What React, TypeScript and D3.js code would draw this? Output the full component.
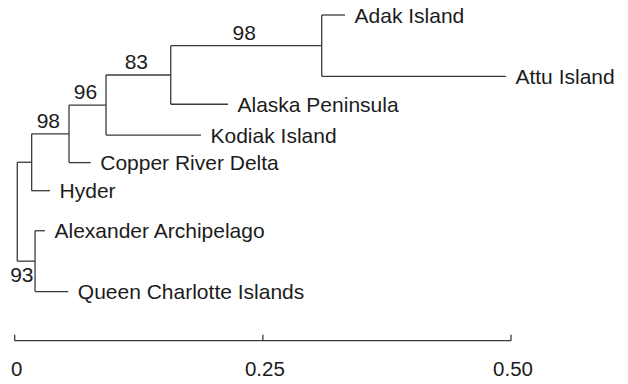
import React, { useEffect } from "react";
import * as d3 from "d3";

// Tree topology: node ids, their parents and branch lengths (substitutions per site)
const nodeIds = ["root", "A", "Hyder", "B", "Copper", "C", "Kodiak", "D", "Alaska", "E", "Adak", "Attu", "F", "Alexander", "Queen"];
const parentIds = ["", "root", "A", "A", "B", "B", "C", "C", "D", "D", "E", "E", "root", "F", "F"];
const branchLengths = [0.0026, 0.0145, 0.0185, 0.0376, 0.0219, 0.0373, 0.0957, 0.0652, 0.0577, 0.1521, 0.0235, 0.1856, 0.0179, 0.01, 0.0335];
// bootstrap support for the branch leading to each node
const bootstrap = [null, null, null, 98, null, 96, null, 83, null, 98, null, null, 93, null, null];

// Terminal taxa: display names and vertical slot in the layout
const tipIds = ["Adak", "Attu", "Alaska", "Kodiak", "Copper", "Hyder", "Alexander", "Queen"];
const tipNames = ["Adak Island", "Attu Island", "Alaska Peninsula", "Kodiak Island", "Copper River Delta", "Hyder", "Alexander Archipelago", "Queen Charlotte Islands"];
const tipSlots = [0, 2.21, 3.21, 4.32, 5.31, 6.32, 7.76, 9.95];

// Scale bar
const scaleTicks = [0, 0.25, 0.5];
const scaleTickLabels = ["0", "0.25", "0.50"];

const W = 628;
const H = 384;
const FONT = "'Liberation Sans', Arial, Helvetica, sans-serif";
const LINE = "#3a3a3a";
const TEXT = "#1c1c1c";

type Datum = { id: string; parent: string; len: number; support: number | null };

export default function App() {
  useEffect(() => {
    document.body.style.margin = "0";
  }, []);

  const x = d3.scaleLinear().domain([0, 0.5]).range([14.7, 511]);
  const y = d3.scaleLinear().domain([0, 1]).range([15, 15 + 27.8]);

  const table: Datum[] = nodeIds.map((id, i) => ({
    id,
    parent: parentIds[i],
    len: branchLengths[i],
    support: bootstrap[i],
  }));

  const root = d3
    .stratify<Datum>()
    .id((d) => d.id)
    .parentId((d) => (d.parent === "" ? null : d.parent))(table);

  // cumulative distance from origin
  const depth = new Map<string, number>();
  root.eachBefore((n) => {
    const p = n.parent ? depth.get(n.parent.id!)! : 0;
    depth.set(n.id!, p + n.data.len);
  });

  // vertical positions: tips from their slots, internal nodes midway between outer children
  const ypos = new Map<string, number>();
  tipIds.forEach((id, i) => ypos.set(id, y(tipSlots[i])));
  root.eachAfter((n) => {
    if (n.children) {
      const ys = n.children.map((c) => ypos.get(c.id!)!);
      ypos.set(n.id!, (d3.min(ys)! + d3.max(ys)!) / 2);
    }
  });

  const nodes = root.descendants();
  const px = (id: string) => x(depth.get(id)!);
  const py = (id: string) => ypos.get(id)!;

  const axisY = 340.7;

  return (
    <svg width={W} height={H} style={{ display: "block", background: "#fff" }} fontFamily={FONT}>
      {/* horizontal branches */}
      {nodes
        .filter((n) => n.parent)
        .map((n) => (
          <line
            key={"h" + n.id}
            x1={px(n.parent!.id!)}
            x2={px(n.id!)}
            y1={py(n.id!)}
            y2={py(n.id!)}
            stroke={LINE}
            strokeWidth={1.3}
          />
        ))}
      {/* vertical connectors */}
      {nodes
        .filter((n) => n.children)
        .map((n) => {
          const ys = n.children!.map((c) => py(c.id!));
          return (
            <line
              key={"v" + n.id}
              x1={px(n.id!)}
              x2={px(n.id!)}
              y1={d3.min(ys)!}
              y2={d3.max(ys)!}
              stroke={LINE}
              strokeWidth={1.3}
            />
          );
        })}
      {/* tip labels */}
      {tipIds.map((id, i) => (
        <text key={"t" + id} x={px(id) + 9.5} y={py(id) + 7.5} fontSize={21} fill={TEXT}>
          {tipNames[i]}
        </text>
      ))}
      {/* bootstrap support: above the branch, or below-left for the short basal branch */}
      {nodes
        .filter((n) => n.data.support !== null)
        .map((n) => {
          const below = n.parent && !n.parent.parent;
          if (below) {
            return (
              <text key={"s" + n.id} x={px(n.id!) - 1.5} y={py(n.id!) + 21} fontSize={21} fill={TEXT} textAnchor="end">
                {n.data.support}
              </text>
            );
          }
          const mid = (px(n.parent!.id!) + px(n.id!)) / 2;
          return (
            <text key={"s" + n.id} x={mid - 2} y={py(n.id!) - 6} fontSize={21} fill={TEXT} textAnchor="middle">
              {n.data.support}
            </text>
          );
        })}
      {/* scale bar */}
      <line x1={x(0)} x2={x(0.5)} y1={axisY} y2={axisY} stroke={LINE} strokeWidth={1.3} />
      {scaleTicks.map((t, i) => (
        <g key={"k" + t}>
          <line x1={x(t)} x2={x(t)} y1={axisY} y2={axisY - 6} stroke={LINE} strokeWidth={1.3} />
          <text x={x(t) + 2} y={376} fontSize={20.5} fill={TEXT} textAnchor="middle">
            {scaleTickLabels[i]}
          </text>
        </g>
      ))}
    </svg>
  );
}
